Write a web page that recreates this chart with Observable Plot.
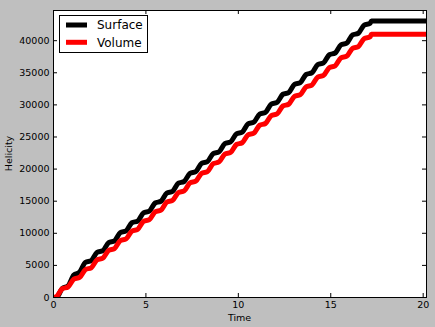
<!DOCTYPE html>
<html>
<head>
<meta charset="utf-8">
<script src="https://cdn.jsdelivr.net/npm/d3@7"></script>
<script src="https://cdn.jsdelivr.net/npm/@observablehq/plot@0.6"></script>
<style>
  html, body { margin: 0; padding: 0; background: #bfbfbf; }
  #chart { width: 435px; height: 327px; }
</style>
</head>
<body>
<div id="chart"></div>
<script>
// Time samples (at the corners of each wiggle)
const times = [0, 0.157, 0.471, 0.785, 1.100, 1.414, 1.728, 2.042, 2.356, 2.670, 2.985,
  3.299, 3.613, 3.927, 4.241, 4.555, 4.869, 5.184, 5.498, 5.812, 6.126,
  6.440, 6.754, 7.069, 7.383, 7.697, 8.011, 8.325, 8.639, 8.954, 9.268,
  9.582, 9.896, 10.210, 10.524, 10.838, 11.153, 11.467, 11.781, 12.095, 12.409,
  12.723, 13.038, 13.352, 13.666, 13.980, 14.294, 14.608, 14.923, 15.237, 15.551,
  15.865, 16.179, 16.493, 16.808, 17.122, 17.2, 20.18];

const surface = [0, 0, 1400, 1800, 3500, 3950, 5484, 5753, 7023, 7293, 8562,
  8832, 10102, 10371, 11641, 11911, 13181, 13450, 14720, 14990, 16259,
  16529, 17799, 18068, 19338, 19608, 20878, 21147, 22417, 22687, 23956,
  24226, 25496, 25765, 27035, 27305, 28575, 28844, 30114, 30384, 31653,
  31923, 33193, 33462, 34732, 35002, 36272, 36541, 37811, 38081, 39350,
  39620, 40890, 41159, 42429, 42699, 43050, 43050];

const volume = [0, 136, 1362, 1634, 2860, 3132, 4358, 4630, 5856, 6128, 7354,
  7626, 8852, 9124, 10350, 10622, 11848, 12120, 13346, 13618, 14844,
  15116, 16342, 16614, 17840, 18112, 19338, 19610, 20836, 21108, 22334,
  22606, 23832, 24104, 25330, 25602, 26828, 27100, 28326, 28598, 29824,
  30096, 31322, 31594, 32820, 33092, 34318, 34590, 35816, 36088, 37314,
  37586, 38812, 39084, 40310, 40582, 41000, 41000];

const seriesNames = ["Surface", "Volume"];
const seriesColors = ["black", "red"];
const xTicks = [0, 5, 10, 15, 20];
const yTicks = [0, 5000, 10000, 15000, 20000, 25000, 30000, 35000, 40000];
const xLabel = "Time";
const yLabel = "Helicity";

const W = 435, H = 327;
const mL = 53, mR = 9, mT = 10, mB = 30;
const iw = W - mL - mR, ih = H - mT - mB;

const surfaceRows = times.map((t, i) => ({t, v: surface[i]}));
const volumeRows = times.map((t, i) => ({t, v: volume[i]}));

const chart = Plot.plot({
  width: W, height: H,
  marginLeft: mL, marginRight: mR, marginTop: mT, marginBottom: mB,
  style: {background: "transparent", fontFamily: "DejaVu Sans", fontSize: "9.5px", color: "black", overflow: "visible"},
  x: {domain: [0, 20.18]},
  y: {domain: [0, 44700]},
  marks: [
    Plot.frame({fill: "white", stroke: null}),
    Plot.line(surfaceRows, {x: "t", y: "v", stroke: seriesColors[0], strokeWidth: 5, curve: "monotone-x", clip: true, strokeLinejoin: "round"}),
    Plot.line(volumeRows, {x: "t", y: "v", stroke: seriesColors[1], strokeWidth: 5, curve: "monotone-x", clip: true, strokeLinejoin: "round"}),
    Plot.ruleX(xTicks, {stroke: "black", insetTop: ih - 4}),
    Plot.ruleX(xTicks, {stroke: "black", insetBottom: ih - 4}),
    Plot.ruleY(yTicks, {stroke: "black", insetRight: iw - 4}),
    Plot.ruleY(yTicks, {stroke: "black", insetLeft: iw - 4}),
    Plot.axisX({ticks: xTicks, tickSize: 0, tickPadding: 4, label: null, tickFormat: d => String(d)}),
    Plot.axisY({ticks: yTicks, tickSize: 0, tickPadding: 4, label: null, tickFormat: d => String(d)}),
    Plot.frame({stroke: "black", strokeWidth: 1})
  ]
});

const svg = d3.select(chart);
// axis labels
svg.append("text")
  .attr("x", mL + iw / 2).attr("y", 321)
  .attr("text-anchor", "middle")
  .attr("font-family", "DejaVu Sans").attr("font-size", "9.5px").attr("fill", "black")
  .text(xLabel);
svg.append("text")
  .attr("transform", `translate(11.5,${mT + ih / 2}) rotate(-90)`)
  .attr("text-anchor", "middle")
  .attr("font-family", "DejaVu Sans").attr("font-size", "9.5px").attr("fill", "black")
  .text(yLabel);

// legend
const lg = svg.append("g");
lg.append("rect").attr("x", 59.5).attr("y", 15.5).attr("width", 88).attr("height", 37)
  .attr("fill", "white").attr("stroke", "black").attr("stroke-width", 1);
seriesNames.forEach((name, i) => {
  const yy = 25 + i * 17.3;
  lg.append("line").attr("x1", 66).attr("x2", 87).attr("y1", yy).attr("y2", yy)
    .attr("stroke", seriesColors[i]).attr("stroke-width", 5);
  lg.append("text").attr("x", 97).attr("y", yy + 4.3)
    .attr("text-anchor", "start")
    .attr("font-family", "DejaVu Sans").attr("font-size", "12px").attr("fill", "black")
    .text(name);
});

document.getElementById("chart").appendChild(chart);
</script>
</body>
</html>
